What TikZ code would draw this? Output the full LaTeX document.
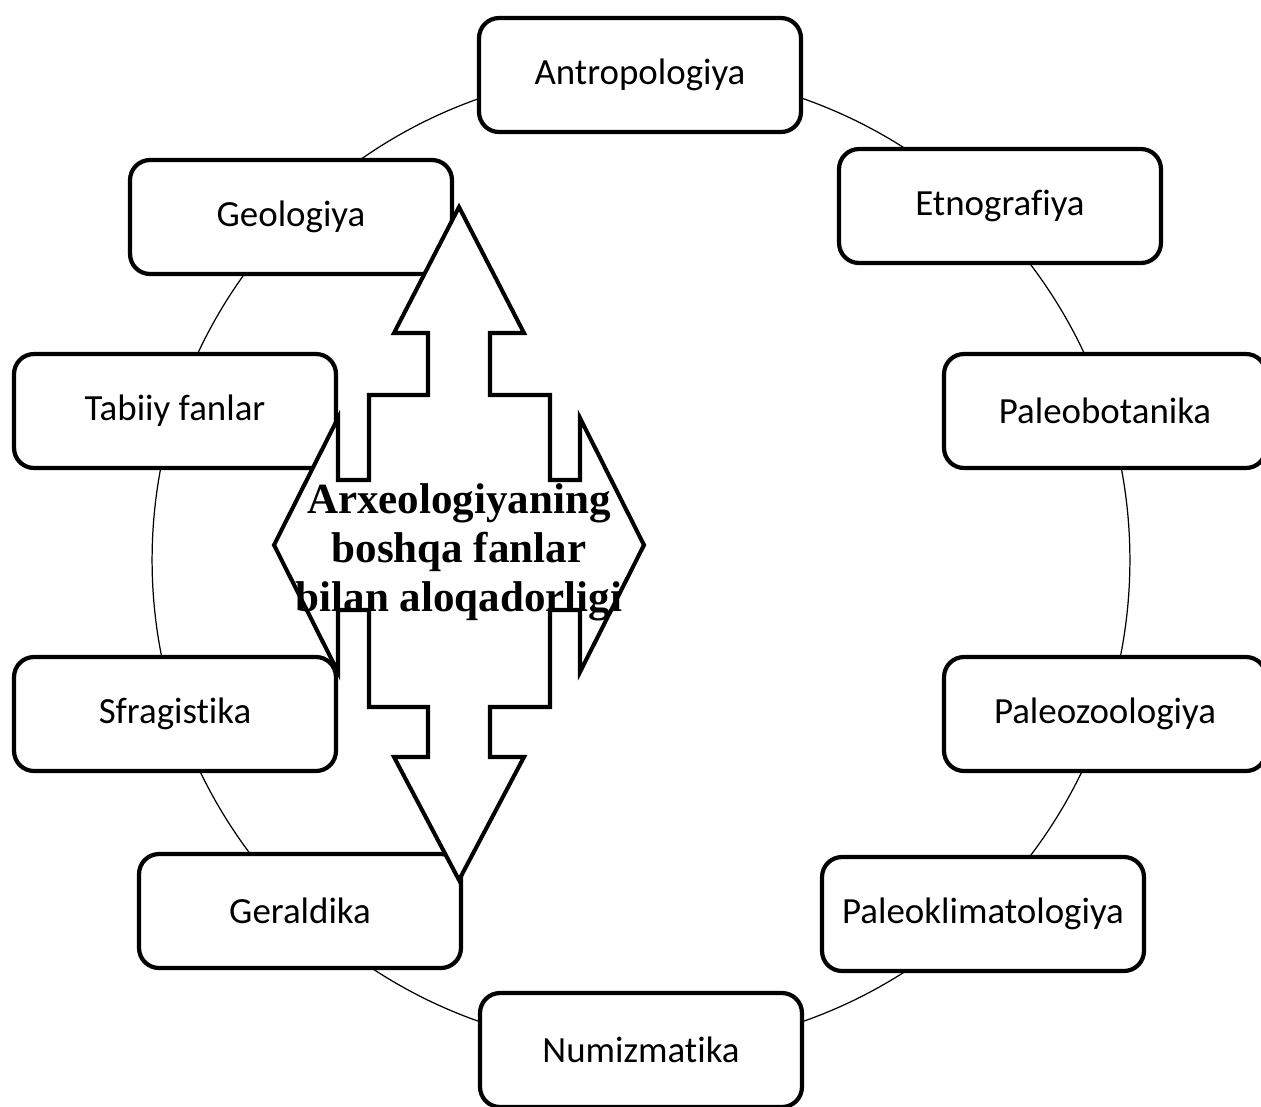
\documentclass[tikz,border=0pt]{standalone}
\usepackage{fontspec}
\setmainfont{Liberation Serif}
\newfontfamily\fanfont[Ligatures=NoCommon]{Carlito}
\tikzset{fan/.style={draw, fill=white, line width=2.4pt, rounded corners=0.4cm, minimum width=6.44cm, minimum height=2.28cm, font=\fanfont\fontsize{21}{25}\selectfont}}

\begin{document}
\begin{tikzpicture}[x=0.02cm, y=-0.02cm]
     \useasboundingbox (0,0) rectangle (1261,1106);
     \draw[line width=0.7pt] (641,560) circle [radius=9.78cm];
     \node [fan] (antro) at (640,75) {Antropologiya};
     \node [fan] (etno) at (1000,206) {Etnografiya};
     \node [fan] (paleobot) at (1105,411) {Paleobotanika};
     \node [fan] (paleozoo) at (1105,714) {Paleozoologiya};
     \node [fan] (paleoklim) at (983,914) {Paleoklimatologiya};
     \node [fan] (numiz) at (641,1050) {Numizmatika};
     \node [fan] (gerald) at (300,911) {Geraldika};
     \node [fan] (sfrag) at (175,714) {Sfragistika};
     \node [fan] (tabiiy) at (175,411) {Tabiiy fanlar};
     \node [fan] (geolog) at (291,217) {Geologiya};
     \draw[line width=2.3pt, fill=white] (459,207) -- (524,333) -- (490,333) -- (490,395) -- (550,395) -- (550,480) -- (580,480) -- (580,418) -- (644,545) -- (580,672) -- (580,610) -- (550,610) -- (550,707) -- (490,707) -- (490,757) -- (524,757) -- (459,880) -- (394,757) -- (428,757) -- (428,707) -- (369,707) -- (369,610) -- (338,610) -- (338,672) -- (274,545) -- (338,418) -- (338,480) -- (369,480) -- (369,395) -- (428,395) -- (428,333) -- (394,333) -- cycle;
     \node [font=\bfseries\fontsize{24.5}{27.8}\selectfont, align=center] (title) at (459,552) {Arxeologiyaning\\boshqa fanlar\\bilan aloqadorligi};
\end{tikzpicture}
\end{document}
